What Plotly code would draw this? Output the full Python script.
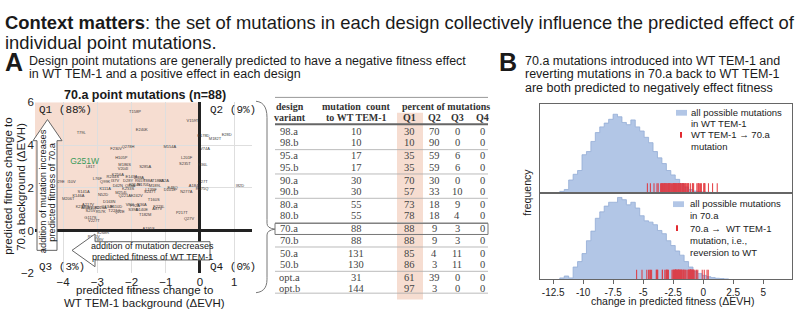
import plotly.graph_objects as go
import numpy as np

W, H = 800, 316
def px(x): return x / W
def py(y): return 1 - y / H

NARROW = "Liberation Sans, Arial, sans-serif"
SANS = "Liberation Sans, Arial, sans-serif"
SERIF = "Liberation Serif, Times New Roman, serif"
MONO = "Liberation Mono, Courier New, monospace"

# ---------------- data: 70.a point mutations ----------------
mut_labels = ["T158P","V159T","T79L","E240K","M154A","F230V","Q278H","H105P","L201F","S235T",
              "G251W","L81T","M186S","V204I","S285A","K256A","E147A","D38A","L76F","Q99K",
              "I37V","D28Y","R65Y","T88A","T180A","K32A","D29E","I10V","Q83A","K214E",
              "D42N","M189L","A184V","E48Q","K111A","N277A","D101E","S247T","S141A","N52D",
              "M254L","K233S","Q221A","E242V","L139F","M206T","A217V","A115V","K234Q","E108D",
              "K219A","Q134E","E110D","V80I","P92A","R36A","S39A","F223L","S25V","R57K",
              "T221G","Q22E","D140E","A87V","T182M","I35V","P217T","Q27V","G117S","V227T",
              "M1I","A195S","R244S","N170D","D163N","T160S","K146A",
              "K178D","M182T","E28D","V74A","Y36L","Q27T","I82D","R275Q",
              "S268R","R241V","G238V"]
wt_dEVH = [-1.90,-0.22,-3.47,-1.70,-0.88,-2.45,-2.10,-2.30,-0.39,-0.44,
           -3.37,-3.20,-2.20,-2.25,-1.60,-2.40,-2.00,-1.78,-3.00,-2.77,
           -2.48,-2.10,-1.75,-1.52,-1.23,-1.05,-4.10,-3.75,-2.04,-1.90,
           -2.40,-1.32,-0.15,-0.80,-2.77,-0.40,-0.88,-1.46,-3.40,-2.83,
           -2.30,-2.10,-2.20,-1.85,-1.43,-3.85,-3.27,-3.30,-3.45,-3.10,
           -2.90,-2.70,-2.45,-2.05,-1.90,-1.70,-1.95,-1.20,-3.20,-2.90,
           -2.50,-2.35,-1.70,-1.25,-1.60,-4.40,-0.53,-0.32,-3.20,-3.10,
           -4.65,-1.50,-2.55,-1.65,-2.65,-1.35,-3.55,
           0.10,0.44,0.78,0.15,0.08,0.08,1.17,0.06,
           -2.83,-3.10,-3.00]
a70_dEVH = [5.55,5.10,4.55,4.70,3.90,3.80,3.90,3.40,3.40,3.10,
            3.20,2.97,3.06,2.90,2.97,2.60,2.50,2.48,2.40,2.25,
            2.34,2.30,2.34,2.34,2.30,2.34,2.25,2.25,2.07,2.15,
            2.07,2.07,2.07,2.00,1.94,1.80,1.90,1.80,1.80,1.67,
            1.75,1.95,1.60,1.62,1.90,1.50,1.20,1.05,1.08,1.05,
            1.05,1.08,1.08,1.20,1.15,1.20,0.98,1.08,0.90,0.85,
            0.92,0.85,0.95,1.00,0.75,0.80,0.80,0.54,0.60,0.45,
            1.26,0.08,2.50,2.15,1.35,1.45,1.60,
            4.40,4.30,4.45,3.80,3.06,2.25,2.07,1.95,
            -0.09,-0.32,-0.42]
highlight = "G251W"

# ---------------- data: table ----------------
variants = ["98.a","98.b","95.a","95.b","90.a","90.b","80.a","80.b",
            "70.a","70.b","50.a","50.b","opt.a","opt.b"]
mut_counts = [10,10,17,17,30,30,55,55,88,88,131,130,31,144]
pct_q1 = [30,10,35,35,70,57,73,78,88,88,85,86,61,97]
pct_q2 = [70,90,59,59,30,33,18,18,9,9,4,3,39,3]
pct_q3 = [0,0,6,6,0,10,9,4,3,3,11,11,0,0]
pct_q4 = [0,0,0,0,0,0,0,0,0,0,0,0,0,0]

# ---------------- data: histograms ----------------
hist_bin_start = -11.95
hist_bin_width = 0.37
wt_hist_counts = [4,10,40,58,70,120,130,162,190,208,220,232,248,240,222,215,230,208,
                  195,175,158,130,110,92,70,56,42,28,18,10,5,3,2,1]
a70_hist_counts = [4,10,4,38,55,80,120,150,190,210,228,240,240,255,248,232,240,222,
                   198,182,178,170,152,142,120,105,88,75,55,38,25,18,12,8,5,3,2,1]
rug_wt = wt_dEVH
rug_a70 = [-v for v in a70_dEVH]

fig = go.Figure()

# scatter labels
colors = ["#3a9a5a" if l == highlight else "#3a3a3a" for l in mut_labels]
sizes = [8.5 if l == highlight else 4 for l in mut_labels]
fig.add_trace(go.Scatter(x=wt_dEVH, y=a70_dEVH, mode="text", text=mut_labels,
                         textfont=dict(size=sizes, color=colors, family=SANS),
                         xaxis="x", yaxis="y", showlegend=False, hoverinfo="skip"))

def step_xy(counts):
    edges = hist_bin_start + hist_bin_width * np.arange(len(counts) + 1)
    xs = [edges[0]] + list(edges[:-1]) + [edges[-1]]
    ys = [0] + list(counts) + [0]
    return xs, ys

for cnts, xa, ya in [(wt_hist_counts, "x2", "y2"), (a70_hist_counts, "x3", "y3")]:
    xs, ys = step_xy(cnts)
    fig.add_trace(go.Scatter(x=xs, y=ys, mode="lines", line_shape="hv",
                             line=dict(color="#93acd6", width=0.8), fill="tozeroy",
                             fillcolor="#b2c6e6", xaxis=xa, yaxis=ya,
                             showlegend=False, hoverinfo="skip"))

fig.add_trace(go.Scatter(x=rug_wt, y=[12] * len(rug_wt), mode="markers",
                         marker=dict(symbol="line-ns", size=8, line=dict(color="#e22a30", width=1.1)),
                         opacity=0.85, xaxis="x2", yaxis="y2", showlegend=False, hoverinfo="skip"))
fig.add_trace(go.Scatter(x=rug_a70, y=[12] * len(rug_a70), mode="markers",
                         marker=dict(symbol="line-ns", size=8, line=dict(color="#e22a30", width=1.1)),
                         opacity=0.85, xaxis="x3", yaxis="y3", showlegend=False, hoverinfo="skip"))

shapes = []
ann = []

def A(xp, yp, text, size=11, family=NARROW, color="#1a1a1a", xanchor="left", yanchor="middle", angle=0):
    ann.append(dict(x=px(xp), y=py(yp), xref="paper", yref="paper", text=text, showarrow=False,
                    xanchor=xanchor, yanchor=yanchor, textangle=angle,
                    font=dict(size=size, family=family, color=color)))

def P(path_pts, fill=None, color="#666", width=1, close=True, layer="above"):
    s = "M " + " L ".join(f"{px(a):.5f},{py(b):.5f}" for a, b in path_pts)
    if close:
        s += " Z"
    d = dict(type="path", path=s, xref="paper", yref="paper", line=dict(color=color, width=width), layer=layer)
    if fill:
        d["fillcolor"] = fill
    shapes.append(d)

def R(x0, y0, x1, y1, fill=None, color=None, width=0, layer="above"):
    d = dict(type="rect", xref="paper", yref="paper", x0=px(x0), x1=px(x1), y0=py(y1), y1=py(y0),
             line=dict(width=width, color=color or "rgba(0,0,0,0)"), layer=layer)
    if fill:
        d["fillcolor"] = fill
    shapes.append(d)

def L(x0, y0, x1, y1, color="#888", width=1):
    shapes.append(dict(type="line", xref="paper", yref="paper", x0=px(x0), x1=px(x1), y0=py(y0), y1=py(y1),
                       line=dict(color=color, width=width)))

# Titles
A(3, 17, "<b>Context matters</b>: the set of mutations in each design collectively influence the predicted effect of", size=18.4)
A(3, 38, "individual point mutations.", size=18.4)
A(3, 58, "<b>A</b>", size=25, family=SANS)
A(27, 57, "Design point mutations are generally predicted to have a negative fitness effect", size=12.5)
A(27, 71, "in WT TEM-1 and a positive effect in each design", size=12.5)
A(497, 58, "<b>B</b>", size=25, family=SANS)
A(523, 57, "70.a mutations introduced into WT TEM-1 and", size=12.5)
A(523, 71, "reverting mutations in 70.a back to WT TEM-1", size=12.5)
A(523, 85, "are both predicted to negatively effect fitness", size=12.5)

# Scatter panel
i70 = variants.index("70.a")
A(145, 93, f"<b>70.a point mutations (n={mut_counts[i70]})</b>", size=12.5, xanchor="center")
shapes.append(dict(type="rect", xref="x", yref="y", x0=-4.82, x1=0, y0=0, y1=6,
                   fillcolor="#f6ddd1", line=dict(width=0), layer="below"))
A(37, 108, f"Q1 ({pct_q1[i70]}%)", size=11, family=MONO)
A(208, 108, f"Q2 ({pct_q2[i70]}%)", size=11, family=MONO)
A(37, 271, f"Q3 ({pct_q3[i70]}%)", size=11, family=MONO)
A(208, 271, f"Q4 ({pct_q4[i70]}%)", size=11, family=MONO)
A(144, 295, "predicted fitness change to", size=11.5, xanchor="center")
A(144, 309, "WT TEM-1 background (ΔEVH)", size=11.5, xanchor="center")
A(8, 188, "predicted fitness change to", size=11.5, xanchor="center", angle=-90)
A(21, 188, "70.a background (ΔEVH)", size=11.5, xanchor="center", angle=-90)

# arrows
P([(37, 254), (37, 140), (33, 140), (47.5, 118), (62, 140), (57, 140), (57, 254)], fill="white", color="#666")
A(42.5, 193, "addition of mutation increases", size=9.3, xanchor="center", angle=-90)
A(52, 193, "predicted fitness of 70.a", size=9.3, xanchor="center", angle=-90)
P([(210, 245), (95, 245), (95, 237), (72, 254), (95, 271), (95, 264), (210, 264)], fill="white", color="#666")
A(152, 249.5, "addition of mutation decreases", size=9, xanchor="center")
A(152, 260.5, "predicted fitness of WT TEM-1", size=9, xanchor="center")

# brace
def bez(p0, p1, p2, n=8):
    t = np.linspace(0, 1, n)
    return [((1-u)**2*p0[0] + 2*(1-u)*u*p1[0] + u**2*p2[0], (1-u)**2*p0[1] + 2*(1-u)*u*p1[1] + u**2*p2[1]) for u in t]
brace = bez((256, 99), (267, 100), (267, 116)) + [(267, 222)] + bez((267, 226), (267, 231), (275, 232), 5) \
    + bez((275, 232), (267, 233), (267, 238), 5) + [(267, 282)] + bez((267, 284), (267, 297), (256, 298))
P(brace, color="#777", width=1, close=False)

# Table
R(397, 111, 423, 305, fill="#f6ddd1", layer="below")
L(275, 95, 488, 95, "#999", 1)
L(275, 123, 488, 123, "#666", 2)
col_v, col_c = 289, 356
col_q = [410, 434, 457, 482]
hdr = dict(size=10, family=SERIF, color="#333")
A(290, 104, "<b>design</b>", xanchor="center", **hdr)
A(290, 115.5, "<b>variant</b>", xanchor="center", **hdr)
A(col_c, 104, "<b>mutation  count</b>", xanchor="center", **hdr)
A(col_c, 115.5, "<b>to WT TEM-1</b>", xanchor="center", **hdr)
A(446, 104, "<b>percent of mutations</b>", xanchor="center", **hdr)
for qx, qn in zip(col_q, ["Q1", "Q2", "Q3", "Q4"]):
    A(qx, 116, f"<b>{qn}</b>", xanchor="center", **hdr)
cell = dict(size=10.5, family=SERIF, color="#444", xanchor="center")
for i, v in enumerate(variants):
    g, r = divmod(i, 2)
    yy = 130.5 + g * 25.3 + r * 11.7
    A(col_v, yy, v, **cell)
    A(col_c, yy, str(mut_counts[i]), **cell)
    for qx, arr in zip(col_q, [pct_q1, pct_q2, pct_q3, pct_q4]):
        A(qx, yy, str(arr[i]), **cell)
for g in range(1, 7):
    L(275, 124 + g * 25.3, 488, 124 + g * 25.3, "#aaa", 0.8)
L(275, 298.5, 488, 298.5, "#aaa", 0.8)
R(275, 226, 488, 237.5, color="#777", width=1)

# Histogram panel labels / legends
A(672, 307, "change in predicted fitness (ΔEVH)", size=10.5, family=SANS, xanchor="center")
A(527, 194, "frequency", size=10.5, family=SANS, xanchor="center", angle=-90)
R(676, 108, 687, 114, fill="#b2c6e6")
L(681, 131, 681, 137, "#e22a30", 2)
leg = dict(size=9.5, family=SANS, color="#222")
A(689, 110.5, "all possible mutations", **leg)
A(689, 122.5, "in WT TEM-1", **leg)
A(689, 134, "WT TEM-1 → 70.a", **leg)
A(689, 146.5, "mutation", **leg)
R(673, 203, 684, 209, fill="#b2c6e6")
L(677, 228, 677, 234, "#e22a30", 2)
A(688, 205, "all possible mutations", **leg)
A(688, 218, "in 70.a", **leg)
A(688, 231, "70.a →  WT TEM-1", **leg)
A(688, 243.5, "mutation, i.e.,", **leg)
A(688, 256, "reversion to WT", **leg)

grid = "#dedede"
fig.update_layout(
    width=W, height=H, margin=dict(l=0, r=0, t=0, b=0),
    paper_bgcolor="white", plot_bgcolor="rgba(0,0,0,0)", showlegend=False,
    shapes=shapes, annotations=ann,
    xaxis=dict(domain=[px(35), px(252)], range=[-4.82, 1.52], tickvals=[-4, -3, -2, -1, 0, 1],
               showgrid=True, gridcolor=grid, gridwidth=1, zeroline=True, zerolinewidth=3,
               zerolinecolor="#222", showline=False, ticks="", anchor="y",
               tickfont=dict(size=11.5, family=NARROW, color="#222")),
    yaxis=dict(domain=[py(278), py(100)], range=[-2, 6], tickvals=[-2, 0, 2, 4, 6],
               showgrid=True, gridcolor=grid, gridwidth=1, zeroline=True, zerolinewidth=3,
               zerolinecolor="#222", showline=False, ticks="", anchor="x",
               tickfont=dict(size=11.5, family=NARROW, color="#222")),
    xaxis2=dict(domain=[px(540), px(792)], range=[-13.6, 7.4], anchor="y2", showticklabels=False,
                showgrid=False, zeroline=False, showline=True, mirror=True, linecolor="#666", linewidth=1,
                ticks=""),
    yaxis2=dict(domain=[py(194), py(102)], range=[0, 280], anchor="x2", showticklabels=False,
                showgrid=False, zeroline=False, showline=True, mirror=True, linecolor="#666", linewidth=1),
    xaxis3=dict(domain=[px(540), px(792)], range=[-13.6, 7.4], anchor="y3", matches="x2",
                tickvals=[-12.5, -10, -7.5, -5, -2.5, 0, 2.5, 5],
                ticktext=["-12.5", "-10", "-7.5", "-5", "-2.5", "0", "2.5", "5"],
                showgrid=False, zeroline=False, showline=True, mirror=True, linecolor="#666", linewidth=1,
                ticks="outside", ticklen=4, tickcolor="#666",
                tickfont=dict(size=10, family=SANS, color="#222")),
    yaxis3=dict(domain=[py(284), py(194)], range=[0, 270], anchor="x3", showticklabels=False,
                showgrid=False, zeroline=False, showline=True, mirror=True, linecolor="#666", linewidth=1),
)

fig.write_html("out.html", config={"displayModeBar": False},
               post_script="document.body.style.margin='0px';document.body.style.overflow='hidden';")
